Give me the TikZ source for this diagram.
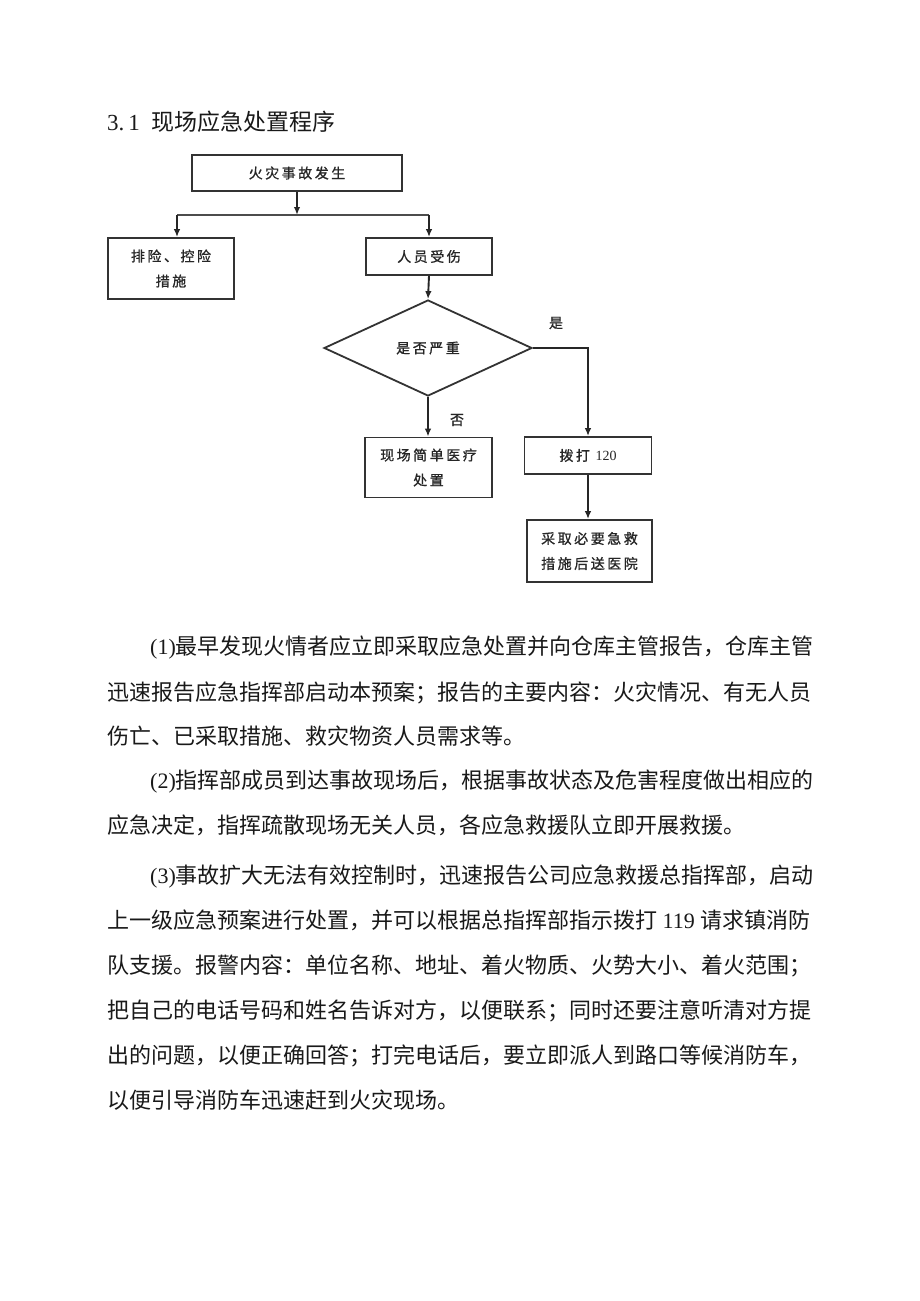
\documentclass[tikz,border=0pt]{standalone}
\usepackage{fontspec}
\setmainfont{Liberation Serif}
\newfontfamily\cjk{Noto Sans CJK SC}
\newfontfamily\boxf[LetterSpace=18,FakeBold=1]{Noto Sans CJK SC}
\usetikzlibrary{arrows.meta,shapes.geometric}
\begin{document}
\begin{tikzpicture}[x=1pt,y=-1pt,
  box/.style={draw=black!80, line width=1.8pt, inner sep=0pt, align=center,
    font=\boxf\fontsize{14}{25}\selectfont, text=black!85},
  lbl/.style={inner sep=0pt, font=\boxf\fontsize{14}{14}\selectfont, text=black!85},
  txt/.style={anchor=base west, inner sep=0pt, font=\cjk\fontsize{22}{22}\selectfont, text=black!90},
  arr/.style={-{Latex[length=8pt,width=6.5pt]}, line width=1.9pt, draw=black!85},
  ln/.style={line width=1.6pt, draw=black!70}]
\useasboundingbox[fill=white] (0,0) rectangle (920,1301);

% title
\node[anchor=base west, inner sep=0pt, text=black!90] (title) at (107,130)
  {\fontsize{23}{23}\selectfont 3.\hspace{4pt}1\hspace{12pt}{\cjk 现场应急处置程序}};

% flowchart
\node[box, minimum width=210pt, minimum height=36pt] (fire) at (297,173) {火灾事故发生};
\node[box, minimum width=126pt, minimum height=61pt] (ctrl) at (171,268.5) {排险、控险\\措施};
\node[box, minimum width=126pt, minimum height=37pt] (hurt) at (429,256.5) {人员受伤};
\node[box, diamond, minimum width=208pt, minimum height=96pt] (sev) at (428,348) {是否严重};
\node[box, minimum width=127pt, minimum height=60pt] (simple) at (428.5,467.5) {现场简单医疗\\处置};
\node[box, minimum width=127pt, minimum height=37pt] (call) at (588,455.5) {拨打 {\rmfamily 120}};
\node[box, minimum width=125pt, minimum height=62pt] (take) at (589.5,551) {采取必要急救\\措施后送医院};

\node[lbl] (yes) at (556,323) {是};
\node[lbl] (no) at (457,420) {否};

\coordinate (j) at (297,215);
\coordinate (jl) at (177,215);
\coordinate (jr) at (429,215);

\draw[arr] (fire.south) -- (j);
\draw[ln] (jl) -- (jr);
\draw[arr] (jl) -- (jl |- ctrl.north);
\draw[arr] (jr) -- (hurt.north);
\draw[arr] (hurt.south) -- (sev.north);
\draw[arr] (sev.south) -- (sev.south |- simple.north);
\draw[arr] (sev.east) -| (call.north);
\draw[arr] (call.south) -- (call.south |- take.north);

% body text
\node[txt] (p1a) at (150,654) {{\rmfamily (1)}最早发现火情者应立即采取应急处置并向仓库主管报告，仓库主管};
\node[txt] (p1b) at (107,700) {迅速报告应急指挥部启动本预案；报告的主要内容：火灾情况、有无人员};
\node[txt] (p1c) at (107,744) {伤亡、已采取措施、救灾物资人员需求等。};
\node[txt] (p2a) at (150,788) {{\rmfamily (2)}指挥部成员到达事故现场后，根据事故状态及危害程度做出相应的};
\node[txt] (p2b) at (107,833) {应急决定，指挥疏散现场无关人员，各应急救援队立即开展救援。};
\node[txt] (p3a) at (150,883) {{\rmfamily (3)}事故扩大无法有效控制时，迅速报告公司应急救援总指挥部，启动};
\node[txt] (p3b) at (107,928) {上一级应急预案进行处置，并可以根据总指挥部指示拨打{\rmfamily\ 119\ }请求镇消防};
\node[txt] (p3c) at (107,973) {队支援。报警内容：单位名称、地址、着火物质、火势大小、着火范围；};
\node[txt] (p3d) at (107,1018) {把自己的电话号码和姓名告诉对方，以便联系；同时还要注意听清对方提};
\node[txt] (p3e) at (107,1063) {出的问题，以便正确回答；打完电话后，要立即派人到路口等候消防车，};
\node[txt] (p3f) at (107,1108) {以便引导消防车迅速赶到火灾现场。};
\end{tikzpicture}
\end{document}
